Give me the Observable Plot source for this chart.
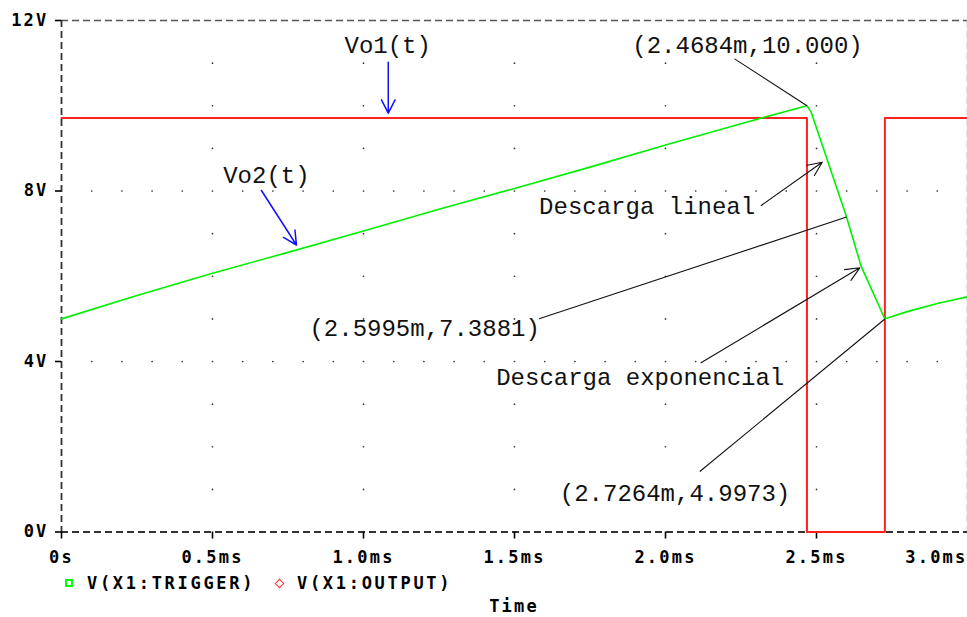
<!DOCTYPE html>
<html><head><meta charset="utf-8">
<script src="https://cdn.jsdelivr.net/npm/d3@7"></script>
<script src="https://cdn.jsdelivr.net/npm/@observablehq/plot@0.6"></script>
<style>
body{margin:0;background:#fff;}
#chart svg{display:block;}
g[aria-label="x-axis tick label"] text, g[aria-label="y-axis tick label"] text{letter-spacing:2.2px;}
#legend{position:relative;height:26px;width:967px;font:bold 17px "DejaVu Sans Mono";letter-spacing:2.7px;color:#000;}
#legend span{position:absolute;line-height:26px;}
#legend span.mk{line-height:0;box-sizing:border-box;}
#xlabel{height:21px;line-height:21px;width:906px;padding-left:61px;text-align:center;font:bold 17px "DejaVu Sans Mono";letter-spacing:2.2px;color:#000;}
</style></head><body>
<div id="chart"></div>
<div id="legend">
  <span class="mk" style="left:65px;top:9px;width:8px;height:8px;border:2px solid #00ff00"></span>
  <span style="left:87px;top:0">V(X1:TRIGGER)</span>
  <span class="mk" style="left:275.5px;top:9.5px;width:7px;height:7px;border:1.5px solid #ff3030;transform:rotate(45deg)"></span>
  <span style="left:297px;top:0">V(X1:OUTPUT)</span>
</div>
<div id="xlabel">Time</div>
<script>
// Tick values
const xTicks = [0, 0.5, 1.0, 1.5, 2.0, 2.5, 3.0];
const xTickLabels = ["0s", "0.5ms", "1.0ms", "1.5ms", "2.0ms", "2.5ms", "3.0ms"];
const yTicks = [0, 4, 8, 12];
const yTickLabels = ["0V", "4V", "8V", "12V"];

// V(X1:TRIGGER) (green) — time in ms, volts
const trigT = [0, 0.25, 0.5, 0.75, 1.0, 1.25, 1.5, 1.75, 2.0, 2.25, 2.4684, 2.4824, 2.5995, 2.648, 2.7264, 2.735, 2.80, 2.90, 3.0];
const trigV = [5.00, 5.55, 6.07, 6.56, 7.06, 7.57, 8.06, 8.56, 9.08, 9.58, 10.0, 9.85, 7.3881, 6.23, 4.9973, 5.02, 5.17, 5.36, 5.52];

// V(X1:OUTPUT) (red)
const outT = [0, 2.4684, 2.4684, 2.7264, 2.7264, 3.0];
const outV = [9.71, 9.71, 0, 0, 9.71, 9.71];

// Annotation texts and their anchor (left, baseline) in data units
const annText = ["Vo1(t)", "Vo2(t)", "(2.4684m,10.000)", "Descarga lineal", "(2.5995m,7.3881)", "Descarga exponencial", "(2.7264m,4.9973)"];
const annT = [0.937, 0.5354, 1.890, 1.5815, 0.821, 1.4394, 1.650];
const annV = [11.226, 8.176, 11.233, 7.449, 4.598, 3.460, 0.7226];

// Blue arrows (Vo1, Vo2 labels)
const blueT1 = [1.082, 0.662], blueV1 = [11.02, 8.012], blueT2 = [1.082, 0.778], blueV2 = [9.825, 6.733];
// Black arrows (Descarga lineal / exponencial)
const blkT1 = [2.317, 2.1175], blkV1 = [7.66, 3.972], blkT2 = [2.519, 2.6434], blkV2 = [8.676, 6.198];
// Leader lines for coordinate labels
const leadT1 = [2.2285, 1.5815, 2.1136], leadV1 = [11.10, 5.002, 1.419];
const leadT2 = [2.4684, 2.5995, 2.7264], leadV2 = [10.0, 7.3881, 4.9973];

const trig = trigT.map((t, i) => ({t, v: trigV[i]}));
const out = outT.map((t, i) => ({t, v: outV[i]}));
const blue = blueT1.map((t, i) => ({x1: t, y1: blueV1[i], x2: blueT2[i], y2: blueV2[i]}));
const blk = blkT1.map((t, i) => ({x1: t, y1: blkV1[i], x2: blkT2[i], y2: blkV2[i]}));
const lead = leadT1.map((t, i) => ({x1: t, y1: leadV1[i], x2: leadT2[i], y2: leadV2[i]}));
const ann = annText.map((s, i) => ({s, t: annT[i], v: annV[i]}));

// dotted grid: columns at major x ticks (every 1 V), rows at major y ticks (every 0.1 ms)
const grid = [];
for (const x of xTicks.slice(1, -1)) for (let v = 1; v <= 11; v++) grid.push({t: x, v});
for (const y of yTicks.slice(1, -1)) for (let k = 1; k < 30; k++) if (k % 5) grid.push({t: k / 10, v: y});

const dash = "7,4";
const chart = Plot.plot({
  width: 967, height: 570,
  marginLeft: 61, marginRight: 0, marginTop: 20, marginBottom: 38.5,
  style: {fontFamily: "DejaVu Sans Mono", fontSize: "17px", fontWeight: "bold", color: "#000", background: "#fff", overflow: "visible"},
  x: {domain: [0, 3], label: null},
  y: {domain: [0, 12], label: null},
  marks: [
    Plot.dot(grid, {x: "t", y: "v", r: 0.85, fill: "#333"}),
    Plot.ruleY([12], {stroke: "#555", strokeWidth: 1.6, strokeDasharray: dash}),
    Plot.ruleX([3], {stroke: "#999", strokeWidth: 1.6, strokeDasharray: dash}),
    Plot.ruleY([0], {stroke: "#333", strokeWidth: 1.8, strokeDasharray: dash}),
    Plot.ruleX([0], {stroke: "#333", strokeWidth: 1.8, strokeDasharray: dash}),
    Plot.axisY({ticks: yTicks, tickFormat: (d) => yTickLabels[yTicks.indexOf(d)], tickSize: 6, tickPadding: 7, strokeWidth: 1.6, label: null}),
    Plot.axisX({ticks: xTicks.slice(0, -1), tickFormat: (d) => xTickLabels[xTicks.indexOf(d)], tickSize: 7, tickPadding: 12, strokeWidth: 1.6, label: null}),
    Plot.axisX({ticks: xTicks.slice(-1), tickFormat: (d) => xTickLabels[xTicks.indexOf(d)], tickSize: 0, tickPadding: 19, textAnchor: "end", dx: 0, label: null}),
    Plot.line(out, {x: "t", y: "v", stroke: "#ff2020", strokeWidth: 2, curve: "linear"}),
    Plot.line(trig, {x: "t", y: "v", stroke: "#00f000", strokeWidth: 1.6, curve: "linear"}),
    Plot.link(lead, {x1: "x1", y1: "y1", x2: "x2", y2: "y2", stroke: "#111", strokeWidth: 1.1}),
    Plot.arrow(blk, {x1: "x1", y1: "y1", x2: "x2", y2: "y2", stroke: "#111", strokeWidth: 1.1, headLength: 21, headAngle: 48}),
    Plot.arrow(blue, {x1: "x1", y1: "y1", x2: "x2", y2: "y2", stroke: "#1010ff", strokeWidth: 1.5, headLength: 15, headAngle: 54}),
    Plot.text(ann, {x: "t", y: "v", text: "s", textAnchor: "start", lineAnchor: "bottom", fontFamily: "Liberation Mono", fontSize: 24, fontWeight: "normal", fill: "#111"})
  ]
});
document.getElementById("chart").append(chart);
</script>
</body></html>
